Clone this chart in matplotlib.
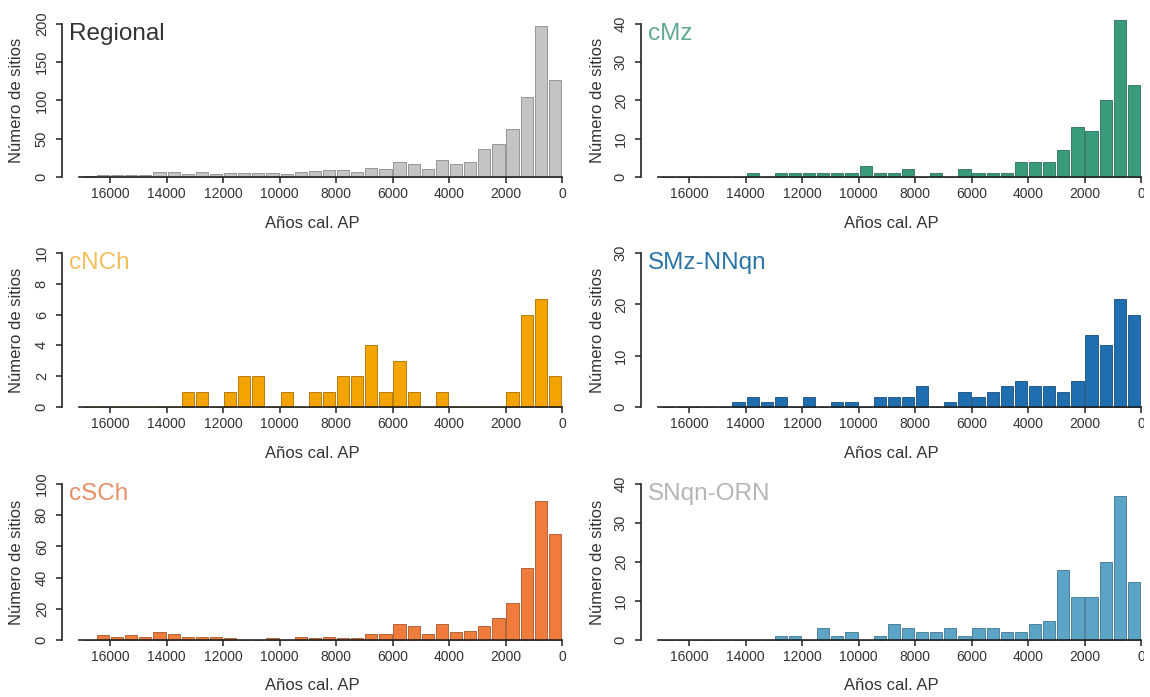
import matplotlib
matplotlib.use('Agg')
import numpy as np
import matplotlib.pyplot as plt
from matplotlib.patches import Rectangle

plt.rcParams['font.family'] = ['Liberation Sans', 'DejaVu Sans']

# bins de 500 años, del más reciente (0-500) al más antiguo (16500-17000)
bin_left = np.arange(0, 17000, 500)

regional = [127, 197, 104, 63, 43, 37, 19, 17, 22, 11, 17, 19, 10, 12, 6, 9, 9,
            8, 6, 4, 5, 5, 5, 5, 4, 6, 4, 6, 6, 2, 2, 2, 3, 1]
cmz = [24, 41, 20, 12, 13, 7, 4, 4, 4, 1, 1, 1, 2, 0, 1, 0, 2,
       1, 1, 3, 1, 1, 1, 1, 1, 1, 0, 1, 0, 0, 0, 0, 0, 0]
cnch = [2, 7, 6, 1, 0, 0, 0, 0, 1, 0, 1, 3, 1, 4, 2, 2, 1,
        1, 0, 1, 0, 2, 2, 1, 0, 1, 1, 0, 0, 0, 0, 0, 0, 0]
smz = [18, 21, 12, 14, 5, 3, 4, 4, 5, 4, 3, 2, 3, 1, 0, 4, 2,
       2, 2, 0, 1, 1, 0, 2, 0, 2, 1, 2, 1, 0, 0, 0, 0, 0]
csch = [68, 89, 46, 24, 14, 9, 6, 5, 10, 4, 9, 10, 4, 4, 1, 1, 2,
        1, 2, 0, 1, 0, 0, 1, 2, 2, 2, 4, 5, 2, 3, 2, 3, 0]
snqn = [15, 37, 20, 11, 11, 18, 5, 4, 2, 2, 3, 3, 1, 3, 2, 2, 3,
        4, 1, 0, 2, 1, 3, 0, 1, 1, 0, 0, 0, 0, 0, 0, 0, 0]

x_ticks = np.arange(0, 16001, 2000)

# nombre, valores, ymax, paso, color barra, borde, color texto, columna, fila
panels = [
    ('Regional', regional, 200, 50, '#c4c4c4', '#8a8a8a', '#333333', 0, 0),
    ('cMz', cmz, 40, 10, '#3a9a7c', '#2a6f5a', '#62a892', 1, 0),
    ('cNCh', cnch, 10, 2, '#f5a300', '#a87000', '#f1bf5c', 0, 1),
    ('SMz-NNqn', smz, 30, 10, '#1f6fb0', '#174f7e', '#2b74a6', 1, 1),
    ('cSCh', csch, 100, 20, '#f07c3c', '#a8562a', '#e98f66', 0, 2),
    ('SNqn-ORN', snqn, 40, 10, '#5ba4c6', '#3f7690', '#b5b5b5', 1, 2),
]

W, H = 1150, 697
col_spine = [62, 641]
col_zero = [562, 1141]
col_ylabel = [17, 597]
row_zero = [177, 407, 640]
row_top = [24, 253, 484]
pad = 1.06

fig = plt.figure(figsize=(W / 100, H / 100), dpi=100)

for name, vals, ymax, step, bc, ec, tc, c, r in panels:
    xs, x0 = col_spine[c], col_zero[c]
    y0, yt = row_zero[r], row_top[r]
    ax_h = pad * (y0 - yt)
    ax = fig.add_axes([xs / W, 1 - y0 / H, (x0 - xs) / W, ax_h / H])

    ax.bar(bin_left + 250, vals, width=430, color=bc, edgecolor=ec,
           linewidth=0.6, clip_on=False)
    ax.set_xlim(17700, 0)
    ax.set_ylim(0, ymax * pad)

    for s in ['top', 'right']:
        ax.spines[s].set_visible(False)
    for s in ['left', 'bottom']:
        ax.spines[s].set_linewidth(1.2)
        ax.spines[s].set_color('#222222')
    ax.spines['left'].set_bounds(0, ymax)
    ax.spines['bottom'].set_bounds(0, 17100)

    ax.set_xticks(x_ticks)
    ax.set_xticklabels([str(v) for v in x_ticks])
    ax.set_yticks(np.arange(0, ymax + 1, step))
    ax.tick_params(axis='both', direction='out', length=4.5, width=1.1,
                   color='#222222', labelcolor='#333333')
    ax.tick_params(axis='x', labelsize=10, pad=3)
    ax.tick_params(axis='y', labelsize=10.5, pad=5)
    for lab in ax.get_yticklabels():
        lab.set_rotation(90)
        lab.set_va('center')

    ax.set_ylabel('Número de sitios', fontsize=12, color='#333333')
    ax.yaxis.label.set_va('center')
    ax.yaxis.set_label_coords((col_ylabel[c] - xs) / (x0 - xs), 0.5 / pad)
    ax.set_xlabel('Años cal. AP', fontsize=12, color='#333333')
    ax.xaxis.label.set_va('center')
    ax.xaxis.set_label_coords(0.5, -46 / ax_h)

    ax.annotate(name, xy=(0, ymax), xycoords=('axes fraction', 'data'),
                xytext=(7, 1), textcoords='offset pixels', ha='left', va='top',
                fontsize=17.5, color=tc)

# la imagen original está recortada en el borde derecho
fig.patches.append(Rectangle((1144 / W, 0), 10 / W, 1, transform=fig.transFigure,
                             facecolor='white', edgecolor='none', zorder=100))

fig.savefig('out.png', dpi=100)
